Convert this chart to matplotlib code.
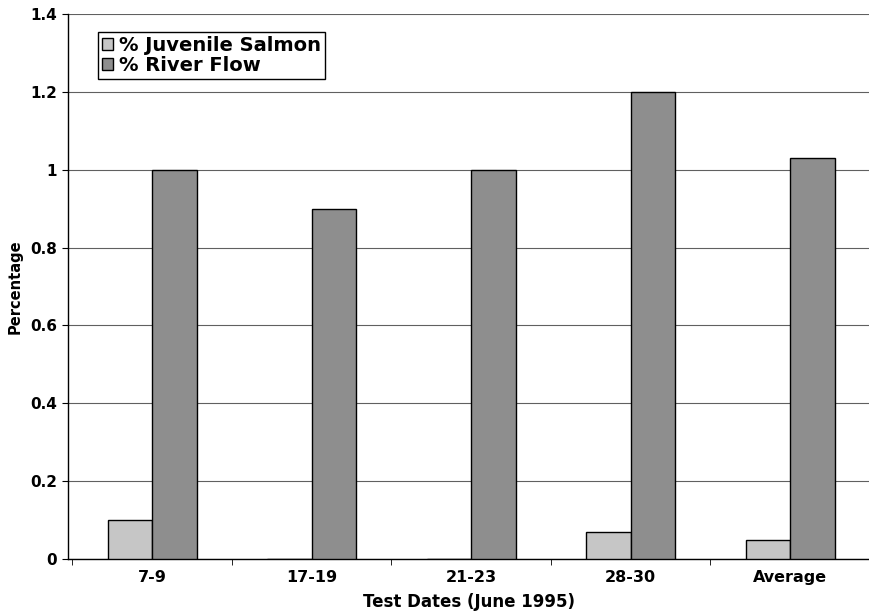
import numpy as np
import matplotlib
matplotlib.use('agg')
import matplotlib.pyplot as plt

matplotlib.rcParams['font.family'] = 'DejaVu Sans'
matplotlib.rcParams['font.weight'] = 'bold'

categories = ['7-9', '17-19', '21-23', '28-30', 'Average']
juvenile = [0.10, 0.0, 0.0, 0.07, 0.05]
river = [1.00, 0.90, 1.00, 1.20, 1.03]

fig = plt.figure(figsize=(8.7, 6.14), dpi=100)
ax = fig.add_axes([68 / 870, 1 - 559 / 614, 802 / 870, 545 / 614])

x = np.arange(len(categories))
w = 0.28
ax.bar(x - w / 2, juvenile, w, color='#c6c6c6', edgecolor='black',
       linewidth=1.0, label='% Juvenile Salmon', zorder=3)
ax.bar(x + w / 2, river, w, color='#8e8e8e', edgecolor='black',
       linewidth=1.0, label='% River Flow', zorder=3)

ax.set_xlim(-0.528, 4.45)
ax.set_ylim(0, 1.4)
ax.set_yticks(np.arange(0, 1.41, 0.2))
ax.set_yticklabels(['0', '0.2', '0.4', '0.6', '0.8', '1', '1.2', '1.4'])
ax.set_xticks(x)
ax.set_xticklabels(categories)
ax.set_xticks(np.arange(-0.5, 4.6, 1), minor=True)
ax.tick_params(axis='x', which='major', length=0, pad=8, labelsize=11.5)
ax.tick_params(axis='x', which='minor', length=4, direction='out')
ax.tick_params(axis='y', length=4, direction='out', labelsize=11, pad=4)

ax.yaxis.grid(True, color='#606060', linewidth=0.8, zorder=0)
ax.set_axisbelow(True)
for s in ['top', 'right']:
    ax.spines[s].set_visible(False)
ax.spines['left'].set_linewidth(1.0)
ax.spines['bottom'].set_linewidth(1.0)

ax.set_xlabel('Test Dates (June 1995)', fontsize=12, fontweight='bold', labelpad=6)
ax.set_ylabel('Percentage', fontsize=10.5, fontweight='bold', labelpad=5)

leg = ax.legend(loc='upper left', bbox_to_anchor=(0.037, 0.967), frameon=True,
                fancybox=False, edgecolor='black', framealpha=1,
                handlelength=0.6, handleheight=0.6, handletextpad=0.3,
                borderpad=0.2, labelspacing=0.05, borderaxespad=0,
                prop={'size': 14, 'weight': 'bold'})
leg.get_frame().set_linewidth(1.0)

plt.savefig('out.png', dpi=100)
